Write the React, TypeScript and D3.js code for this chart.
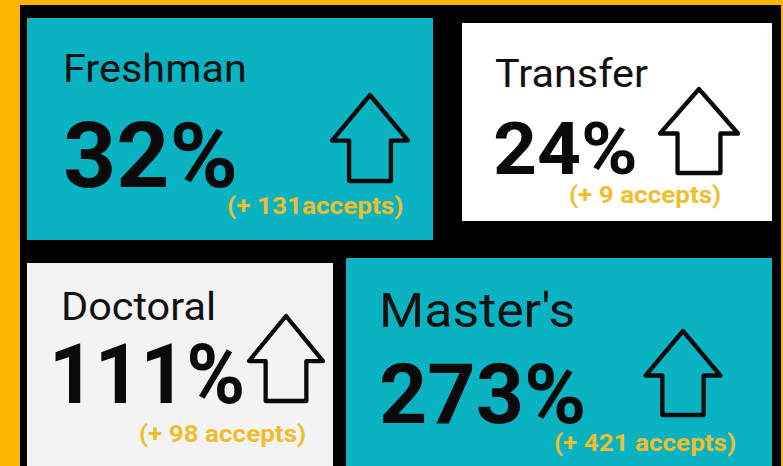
import React from "react";
import * as d3 from "d3";

const categories = ["Freshman", "Transfer", "Doctoral", "Master's"];
const pctValues = [32, 24, 111, 273];
const acceptLabels = ["(+ 131accepts)", "(+ 9 accepts)", "(+ 98 accepts)", "(+ 421 accepts)"];

const W = 783;
const H = 466;

// layout (positions / styles only): [x, baseline, fontSize, horizontal scale]
const cards = [
  { x: 27, y: 18, w: 406, h: 222, fill: "#0AB3C2",
    title: [63, 82, 38, 1.09], pct: [63, 187, 91, 1.02], acc: [227, 214, 24, 1.09], arrow: [370, 95, 76, 86] },
  { x: 462, y: 23, w: 310, h: 198, fill: "#FFFFFF",
    title: [495, 87, 38, 1.09], pct: [493, 174, 73, 1.05], acc: [569, 203, 24, 1.085], arrow: [699, 89, 78, 84] },
  { x: 27, y: 263, w: 306, h: 215, fill: "#F3F3F3",
    title: [61, 320, 38, 1.09], pct: [49, 403, 84, 0.95], acc: [139, 442, 24, 1.085], arrow: [286, 316, 74, 85] },
  { x: 346, y: 258, w: 426, h: 215, fill: "#0AB3C2",
    title: [379, 327, 48, 1.08], pct: [379, 423, 83, 1.015], acc: [554, 451, 24, 1.085], arrow: [683, 331, 75, 84] },
];

function arrowPath(cx: number, top: number, w: number, h: number) {
  const p = d3.path();
  const wingY = top + 0.53 * h;
  const sh = 0.275 * w;
  p.moveTo(cx, top);
  p.lineTo(cx + w / 2, wingY);
  p.lineTo(cx + sh, wingY);
  p.lineTo(cx + sh, top + h);
  p.lineTo(cx - sh, top + h);
  p.lineTo(cx - sh, wingY);
  p.lineTo(cx - w / 2, wingY);
  p.closePath();
  return p.toString();
}

const fmtPct = (v: number) => d3.format("d")(v) + "%";
const tf = (t: number[]) => `translate(${t[0]},${t[1]}) scale(${t[3]},1)`;

export default function App() {
  return (
    <svg width={W} height={H} style={{ position: "fixed", left: 0, top: 0 }}
      fontFamily="Roboto, 'Noto Sans', sans-serif">
      <rect x={0} y={0} width={W} height={H} fill="#FBB500" />
      <rect x={20} y={5} width={761} height={H - 5} fill="#000000" />
      {cards.map((c, i) => (
        <g key={categories[i]}>
          <rect x={c.x} y={c.y} width={c.w} height={c.h} fill={c.fill} />
          <text transform={tf(c.title)} fontSize={c.title[2]} fill="#111">{categories[i]}</text>
          <text transform={tf(c.pct)} fontSize={c.pct[2]} fontWeight={700} fill="#0a0a0a">{fmtPct(pctValues[i])}</text>
          <text transform={tf(c.acc)} fontSize={c.acc[2]} fontWeight={700} fill="#F0BE2C">{acceptLabels[i]}</text>
          <path d={arrowPath(c.arrow[0], c.arrow[1], c.arrow[2], c.arrow[3])}
            fill="none" stroke="#0a0a0a" strokeWidth={4.3} strokeLinejoin="round" />
        </g>
      ))}
    </svg>
  );
}
